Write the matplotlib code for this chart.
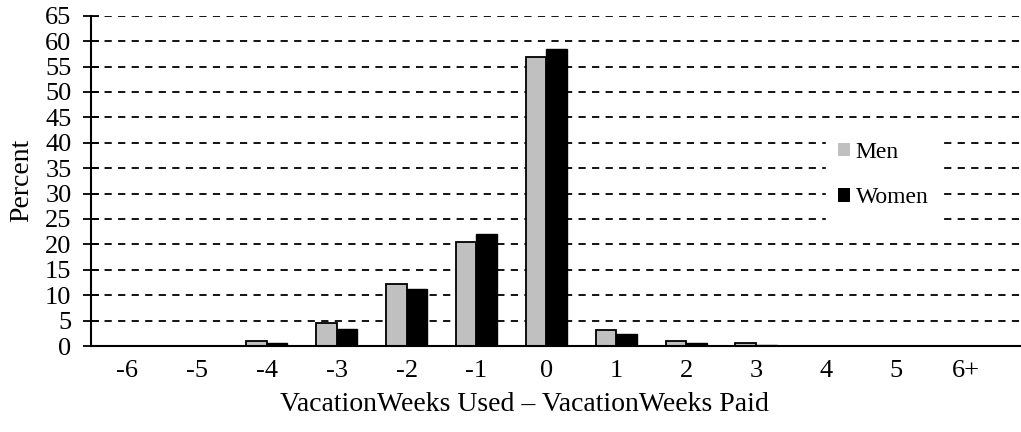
import matplotlib
matplotlib.use("Agg")
import matplotlib.pyplot as plt
from matplotlib.patches import Patch
import numpy as np

plt.rcParams['font.family'] = ['Liberation Serif', 'DejaVu Serif']

# Data
categories = ["-6", "-5", "-4", "-3", "-2", "-1", "0", "1", "2", "3", "4", "5", "6+"]
men = [0.1, 0.1, 1.0, 4.6, 12.2, 20.5, 56.8, 3.1, 1.0, 0.6, 0.1, 0.1, 0.1]
women = [0.05, 0.05, 0.6, 3.4, 11.2, 22.0, 58.5, 2.4, 0.6, 0.3, 0.05, 0.05, 0.05]

fig = plt.figure(figsize=(10.21, 4.32), dpi=100)
ax = fig.add_axes([0.0891, 0.199, 0.9109, 0.7647])

x = np.arange(len(categories))
w = 0.295
ax.bar(x - w / 2, men, w, color="#c0c0c0", edgecolor="black", linewidth=1.3, zorder=3)
ax.bar(x + w / 2, women, w, color="black", edgecolor="black", linewidth=1.0, zorder=3)

ax.set_xlim(-0.515, 12.79)
ax.set_ylim(0, 65)
ax.set_yticks(np.arange(0, 66, 5))
ax.set_xticks(x)
ax.set_xticklabels(categories)

# dashed horizontal gridlines
for yv in np.arange(5, 66, 5):
    ax.axhline(yv, color="black", linestyle=(0, (4, 3.5)), linewidth=1.3, zorder=1)

for s in ["top", "right"]:
    ax.spines[s].set_visible(False)
ax.spines["left"].set_linewidth(1.5)
ax.spines["bottom"].set_linewidth(1.5)
ax.spines["left"].set_zorder(4)
ax.spines["bottom"].set_zorder(4)

ax.tick_params(axis="y", direction="inout", length=12, width=1.3, labelsize=19, pad=8)
ax.tick_params(axis="x", length=0, labelsize=19, pad=10)

ax.set_ylabel("Percent", fontsize=20)
ax.yaxis.set_label_coords(-0.061, 0.5)
ax.set_xlabel("VacationWeeks Used \u2013 VacationWeeks Paid", fontsize=20)
ax.xaxis.set_label_coords(0.466, -0.176)
ax.xaxis.label.set_va("center")

handles = [Patch(facecolor="#c0c0c0", edgecolor="none", label="Men"),
           Patch(facecolor="black", edgecolor="none", label="Women")]
leg = ax.legend(handles=handles, loc="upper left", bbox_to_anchor=(0.778, 0.69),
                frameon=True, fontsize=17, handlelength=0.5, handleheight=0.5,
                handletextpad=0.25, labelspacing=1.05, borderpad=0.5)
leg.get_frame().set_edgecolor("white")
leg.get_frame().set_facecolor("white")
leg.get_frame().set_alpha(1)
leg.get_frame().set_boxstyle("square", pad=0)
leg.set_zorder(5)

fig.savefig("out.png", dpi=100)
